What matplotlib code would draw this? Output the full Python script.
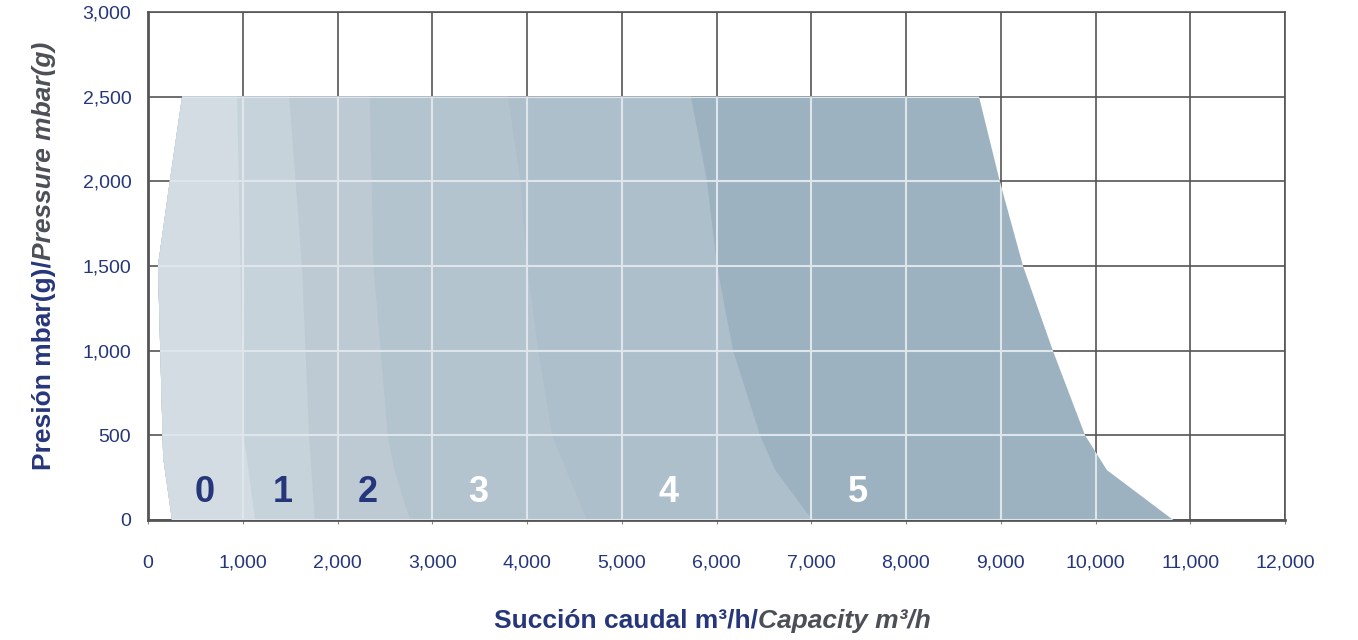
import matplotlib
matplotlib.use("Agg")
import matplotlib.pyplot as plt
from matplotlib.patches import Polygon

plt.rcParams['font.family'] = ['Liberation Sans', 'DejaVu Sans']

# left envelope shared by all zones (capacity, pressure), top to bottom
left_x = [360, 230, 105, 160, 253]
left_y = [2500, 2000, 1500, 370, 0]

# right boundary of each zone, top to bottom
zone_names = ['0', '1', '2', '3', '4', '5']
right_x = [
    [940, 975, 1010, 1130],
    [1490, 1625, 1700, 1760],
    [2340, 2380, 2530, 2600, 2765],
    [3800, 3930, 4000, 4120, 4265, 4630],
    [5730, 5900, 6005, 6175, 6460, 6620, 7010],
    [8770, 8990, 9235, 9550, 9890, 10120, 10820],
]
right_y = [
    [2500, 1500, 500, 0],
    [2500, 1500, 500, 0],
    [2500, 1500, 500, 295, 0],
    [2500, 2000, 1500, 1000, 500, 0],
    [2500, 2000, 1500, 1000, 500, 295, 0],
    [2500, 2000, 1500, 1000, 500, 295, 0],
]
label_x = [600, 1420, 2320, 3480, 5490, 7490]
label_y = [160, 160, 160, 160, 160, 160]

zone_colors = ['#d3dce3', '#c7d3db', '#bdcad4', '#b3c4cf', '#aebfcc', '#9cb2c0']
label_colors = ['#26367a', '#26367a', '#26367a', 'white', 'white', 'white']
navy = '#26367a'
grey_it = '#4d4f57'

fig = plt.figure(figsize=(13.58, 6.4), dpi=100)
ax = fig.add_axes([148/1358, 1 - 520/640, (1285-148)/1358, (520-12)/640])

ax.set_xlim(0, 12000)
ax.set_ylim(0, 3000)
xt = list(range(0, 12001, 1000))
yt = list(range(0, 3001, 500))
ax.set_xticks(xt)
ax.set_yticks(yt)
ax.set_xticklabels([f'{v:,}' for v in xt])
ax.set_yticklabels([f'{v:,}' for v in yt])
ax.tick_params(axis='x', length=3, color='#888888', pad=22, labelsize=14, labelcolor=navy)
ax.tick_params(axis='y', length=0, pad=12, labelsize=14, labelcolor=navy)

for v in xt:
    ax.axvline(v, color='#555555', lw=1.2, zorder=1)
for v in yt:
    ax.axhline(v, color='#555555', lw=1.2, zorder=1)
for s in ax.spines.values():
    s.set_color('#555555')
    s.set_linewidth(1.2)
ax.spines['left'].set_linewidth(2)
ax.spines['bottom'].set_linewidth(2)

# zones, biggest first so smaller ones sit on top
envelope = None
for i in range(len(zone_names) - 1, -1, -1):
    pts = [(left_x[0], left_y[0])]
    pts += list(zip(right_x[i], right_y[i]))
    pts += list(zip(left_x[::-1], left_y[::-1]))[:-1]
    poly = Polygon(pts, closed=True, facecolor=zone_colors[i], edgecolor='none', zorder=3)
    ax.add_patch(poly)
    if i == len(zone_names) - 1:
        envelope = Polygon(pts, closed=True, transform=ax.transData)

# light grid inside the filled area
for v in xt:
    ln = ax.axvline(v, color='#dfe6eb', lw=1.5, zorder=4)
    ln.set_clip_path(envelope)
for v in yt:
    ln = ax.axhline(v, color='#dfe6eb', lw=1.5, zorder=4)
    ln.set_clip_path(envelope)

for i in range(len(zone_names)):
    ax.text(label_x[i], label_y[i], zone_names[i], color=label_colors[i], fontsize=26,
            fontweight='bold', ha='center', va='center', zorder=5)

# two-style axis labels
xa = fig.text(0, 0, 'Succión caudal m³/h/', color=navy, fontsize=19, fontweight='bold',
              ha='left', va='center')
xb = fig.text(0, 0, 'Capacity m³/h', color=grey_it, fontsize=19, fontweight='bold',
              style='italic', ha='left', va='center')
ya = fig.text(0, 0, 'Presión mbar(g)/', color=navy, fontsize=19, fontweight='bold',
              rotation=90, ha='center', va='bottom')
yb = fig.text(0, 0, 'Pressure mbar(g)', color=grey_it, fontsize=19, fontweight='bold',
              style='italic', rotation=90, ha='center', va='bottom')

fig.canvas.draw()
r = fig.canvas.get_renderer()
W, H = fig.bbox.width, fig.bbox.height
wa = xa.get_window_extent(r).width
wb = xb.get_window_extent(r).width
x0 = 712 - (wa + wb) / 2
xa.set_position((x0 / W, 1 - 621 / H))
xb.set_position(((x0 + wa) / W, 1 - 621 / H))
ha_ = ya.get_window_extent(r).height
hb_ = yb.get_window_extent(r).height
y0 = (H - 256) - (ha_ + hb_) / 2
ya.set_position((44 / W, y0 / H))
yb.set_position((44 / W, (y0 + ha_) / H))

fig.savefig('out.png', dpi=100)
